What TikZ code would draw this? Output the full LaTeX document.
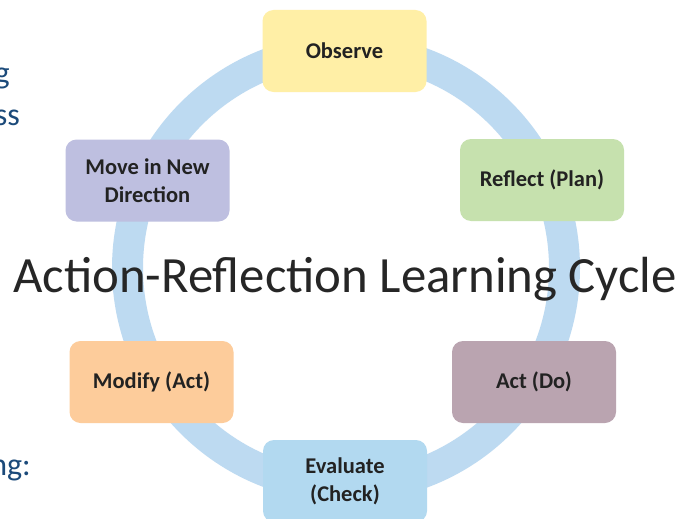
\documentclass[tikz,border=0pt]{standalone}
\usepackage{fontspec}
\setmainfont{Carlito}
\definecolor{ringblue}{HTML}{BDDAF1}
\definecolor{cObserve}{HTML}{FFEFA6}
\definecolor{cReflect}{HTML}{C6E1AE}
\definecolor{cAct}{HTML}{BAA4B0}
\definecolor{cEval}{HTML}{B2D9F0}
\definecolor{cModify}{HTML}{FDCC9B}
\definecolor{cMove}{HTML}{BEBFE0}
\definecolor{boxtext}{HTML}{222222}
\definecolor{titletext}{HTML}{262626}
\definecolor{sidetext}{HTML}{1B4A7A}
\begin{document}
\begin{tikzpicture}[x=1pt,y=-1pt,
  cyclebox/.style={rounded corners=11pt, minimum width=164pt, minimum height=82pt,
    inner sep=0pt, align=center, text=boxtext,
    font=\fontsize{22.5}{28}\selectfont\bfseries},
  sidefrag/.style={anchor=base east, inner sep=0pt, text=sidetext,
    font=\fontsize{32}{38}\selectfont}]
\useasboundingbox[fill=white] (0,0) rectangle (693,519);
\draw[ringblue, line width=31pt] (346,268) circle[radius=218.5];
\node[cyclebox, fill=cObserve] (observe) at (344.5,51) {Observe};
\node[cyclebox, fill=cReflect] (reflect) at (542,180) {Reflect (Plan)};
\node[cyclebox, fill=cAct] (act) at (534,382) {Act (Do)};
\node[cyclebox, fill=cEval] (evaluate) at (345,481) {Evaluate\\(Check)};
\node[cyclebox, fill=cModify] (modify) at (151.5,382) {Modify (Act)};
\node[cyclebox, fill=cMove] (move) at (147.5,180.5) {Move in New\\Direction};
\node[anchor=base west, inner sep=0pt, text=titletext,
  font=\fontsize{50.8}{56}\selectfont] (title) at (13,292) {Action-Reflection Learning Cycle};
\node[sidefrag] (frag1) at (10,84) {g};
\node[sidefrag] (frag2) at (20,125) {ss};
\node[sidefrag] (frag3) at (31,475) {ng:};
\end{tikzpicture}
\end{document}
